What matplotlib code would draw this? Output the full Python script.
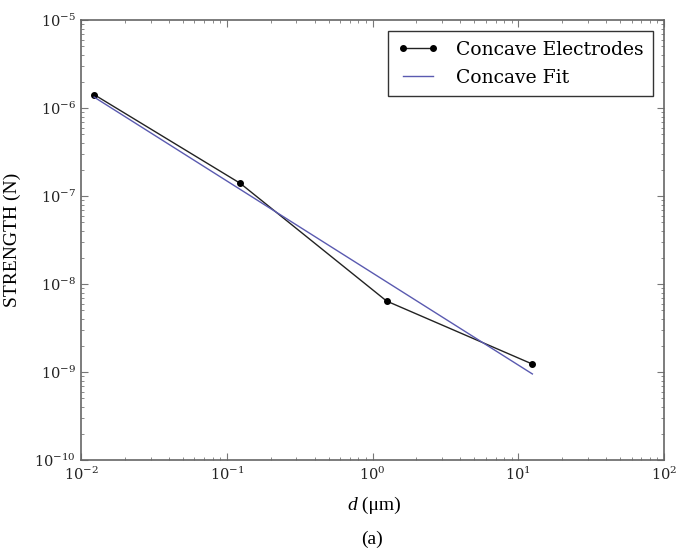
import matplotlib
matplotlib.use("Agg")
import matplotlib.pyplot as plt
import numpy as np

# Data
d_um = [0.0123, 0.124, 1.25, 12.5]
strength = [1.42e-6, 1.39e-7, 6.4e-9, 1.23e-9]
fit_x = [0.0123, 12.5]
fit_y = [1.33e-6, 9.5e-10]
series_labels = ["Concave Electrodes", "Concave Fit"]
xtick_vals = [1e-2, 1e-1, 1e0, 1e1, 1e2]
xtick_labels = [r'$10^{-2}$', r'$10^{-1}$', r'$10^{0}$', r'$10^{1}$', r'$10^{2}$']
ytick_vals = [1e-10, 1e-9, 1e-8, 1e-7, 1e-6, 1e-5]
ytick_labels = [r'$10^{-10}$', r'$10^{-9}$', r'$10^{-8}$', r'$10^{-7}$', r'$10^{-6}$', r'$10^{-5}$']

plt.rcParams['mathtext.fontset'] = 'dejavuserif'

W, H = 691, 550
fig = plt.figure(figsize=(W/100, H/100), dpi=100)
L, R, T, B = 81, 664, 20, 460
ax = fig.add_axes([L/W, (H-B)/H, (R-L)/W, (B-T)/H])

ax.plot(d_um, strength, color='#222222', lw=1.0, marker='o', ms=4,
        mfc='black', mec='black', label=series_labels[0])
ax.plot(fit_x, fit_y, color='#5a5ab0', lw=1.0, label=series_labels[1])

ax.set_xscale('log')
ax.set_yscale('log')
ax.set_xlim(1e-2, 1e2)
ax.set_ylim(1e-10, 1e-5)

for s in ax.spines.values():
    s.set_color('#666666')
    s.set_linewidth(1.2)

ax.tick_params(which='both', direction='in', top=True, right=True, colors='#777777',
               labelcolor='#222222')
ax.tick_params(which='major', length=5, width=0.8)
ax.tick_params(which='minor', length=2.5, width=0.6)
ax.tick_params(axis='x', pad=4)

ax.set_xticks(xtick_vals)
ax.set_xticklabels(xtick_labels, fontsize=10.5)
ax.set_yticks(ytick_vals)
ax.set_yticklabels(ytick_labels, fontsize=10.5)

ax.set_ylabel('STRENGTH (N)', fontfamily='Liberation Serif', fontsize=14)
ax.yaxis.set_label_coords((21 - L) / (R - L), 0.5)

# x label: italic d followed by upright unit
xc = 357 / W
yl = (H - 505) / H
fig.text(xc, yl, 'd', style='italic', ha='right', va='center',
         fontfamily='Liberation Serif', fontsize=14)
fig.text(xc, yl, ' (μm)', ha='left', va='center',
         fontfamily='Liberation Serif', fontsize=14)

fig.text((L + R) / 2 / W, (H - 539) / H, '(a)', ha='center', va='center',
         fontfamily='Liberation Serif', fontsize=14)

leg = ax.legend(loc='upper right', numpoints=2, fancybox=False, framealpha=1,
                edgecolor='#333333', prop={'family': 'DejaVu Serif', 'size': 13.5},
                borderaxespad=0.6, handlelength=2.2, labelspacing=0.55,
                borderpad=0.5, handletextpad=0.9)
leg.get_frame().set_linewidth(1.0)

fig.savefig('out.png', dpi=100)
